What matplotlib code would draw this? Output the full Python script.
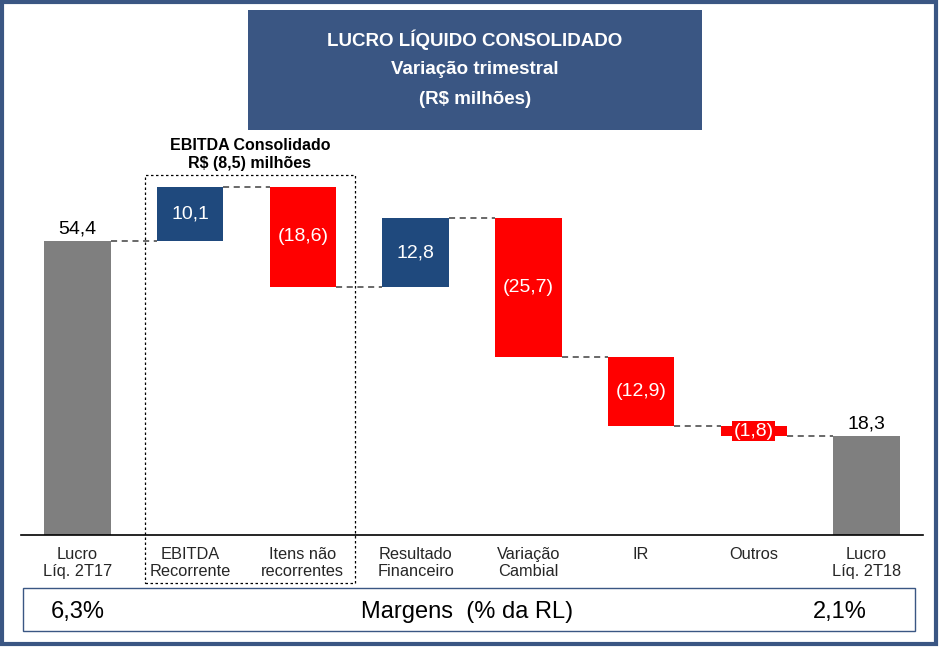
import matplotlib
matplotlib.use("Agg")
import matplotlib.pyplot as plt
from matplotlib.patches import Rectangle

plt.rcParams['font.family'] = ['Liberation Sans', 'DejaVu Sans']

categories = ["Lucro\nLíq. 2T17", "EBITDA\nRecorrente", "Itens não\nrecorrentes",
              "Resultado\nFinanceiro", "Variação\nCambial", "IR", "Outros", "Lucro\nLíq. 2T18"]
values = [54.4, 10.1, -18.6, 12.8, -25.7, -12.9, -1.8, 18.3]
is_total = [True, False, False, False, False, False, False, True]
margins = ["6,3%", "2,1%"]
title_lines = ["LUCRO LÍQUIDO CONSOLIDADO", "Variação trimestral", "(R$ milhões)"]
ebitda_note = ["EBITDA Consolidado", "R$ (8,5) milhões"]

GRAY = "#7F7F7F"
BLUE = "#1F497D"
RED = "#FF0000"
NAVY = "#3A5683"

W, H = 939, 647
fig = plt.figure(figsize=(W / 100, H / 100), dpi=100)

def fx(px):
    return px / W

def fy(py):
    return 1 - py / H

# main axes: baseline at y=535px, x from 21 to 923
ax = fig.add_axes([fx(21), fy(535), fx(923) - fx(21), fy(130) - fy(535)])
ax.set_xlim(-0.5, len(values) - 0.5)
ax.set_ylim(0, 75)
for s in ["top", "right", "left"]:
    ax.spines[s].set_visible(False)
ax.spines["bottom"].set_linewidth(1.2)
ax.set_yticks([])
ax.set_xticks([])

def fmt(v):
    s = f"{abs(v):.1f}".replace(".", ",")
    return f"({s})" if v < 0 else s

bw = 0.59
running = 0.0
tops = []
for i, v in enumerate(values):
    if is_total[i]:
        bottom, height, color = 0, v, GRAY
        running = v
    else:
        if v >= 0:
            bottom, height, color = running, v, BLUE
        else:
            bottom, height, color = running + v, -v, RED
        running += v
    tops.append(running)
    ax.bar(i, height, bottom=bottom, width=bw, color=color, zorder=2)
    if is_total[i]:
        ax.text(i, v + 0.6, fmt(v), ha="center", va="bottom", fontsize=14, color="black")
    else:
        mid = bottom + height / 2
        if height < 4:
            ax.text(i, mid, fmt(v), ha="center", va="center", fontsize=14, color="white",
                    bbox=dict(boxstyle="square,pad=0.08", fc=RED, ec="none"), zorder=3)
        else:
            ax.text(i, mid, fmt(v), ha="center", va="center", fontsize=14, color="white", zorder=3)

# connectors
for i in range(len(values) - 1):
    lvl = tops[i]
    ax.plot([i + bw / 2, i + 1 - bw / 2], [lvl, lvl], ls=(0, (4, 3)), color="#404040", lw=1.1, zorder=1)

# category labels
for i, c in enumerate(categories):
    fig.text(fx(21) + (fx(923) - fx(21)) * (i + 0.5) / len(values), fy(547), c,
             ha="center", va="top", fontsize=11.8, color="#262626", linespacing=1.2)

# title box
fig.patches.append(Rectangle((fx(248), fy(130)), fx(702) - fx(248), fy(10) - fy(130),
                             transform=fig.transFigure, fc=NAVY, ec="none"))
for t, yy in zip(title_lines, [40, 70, 100]):
    fig.text(fx(475), fy(yy), t, ha="center", va="center", fontsize=13.5,
             fontweight="bold", color="white")

# EBITDA note
for t, yy in zip(ebitda_note, [145, 164]):
    fig.text(fx(250), fy(yy), t, ha="center", va="center", fontsize=11.5,
             fontweight="bold", color="black")

# dashed box
fig.patches.append(Rectangle((fx(145), fy(583)), fx(355) - fx(145), fy(175) - fy(583),
                             transform=fig.transFigure, fc="none", ec="black",
                             lw=0.9, ls=(0, (2, 2))))

# margins box
fig.patches.append(Rectangle((fx(23), fy(631)), fx(915) - fx(23), fy(588) - fy(631),
                             transform=fig.transFigure, fc="none", ec=NAVY, lw=1))
fig.text(fx(78), fy(612), margins[0], ha="center", va="center", fontsize=17, color="black")
fig.text(fx(467), fy(612), "Margens  (% da RL)", ha="center", va="center", fontsize=17, color="black")
fig.text(fx(840), fy(612), margins[1], ha="center", va="center", fontsize=17, color="black")

# outer border
fig.patches.append(Rectangle((fx(2), fy(644)), fx(936) - fx(2), fy(2) - fy(644),
                             transform=fig.transFigure, fc="none", ec=NAVY, lw=3))

fig.savefig("out.png", dpi=100)
